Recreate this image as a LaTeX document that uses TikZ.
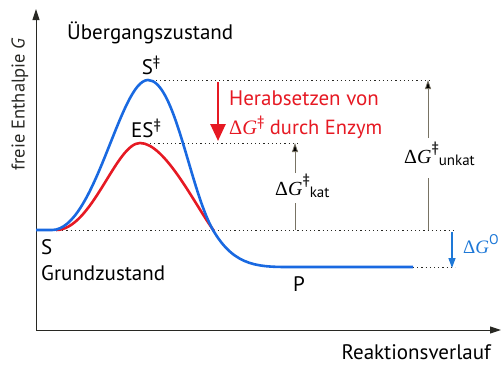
\documentclass[tikz,border=0pt]{standalone}
\usepackage{fontspec}
\setmainfont{PT Sans}
\newfontfamily\serifG{Liberation Serif}
\usetikzlibrary{arrows.meta}
\definecolor{cblue}{RGB}{25,105,225}
\definecolor{cred}{RGB}{230,25,35}
\definecolor{ctxtblue}{RGB}{30,120,215}
\definecolor{caxis}{RGB}{40,40,35}
\definecolor{cgray}{RGB}{120,115,100}
\newcommand{\dG}{{\serifG\char"0394\itshape G}}
\newcommand{\dd}{\raisebox{0.38em}{\fontsize{15}{15}\selectfont ‡}}
\tikzset{
  lbl/.style={inner sep=0pt, font=\fontsize{21}{23}\selectfont, text=black},
  dotline/.style={draw=caxis, line width=0.9pt, dash pattern=on 1.2pt off 3pt},
  axisline/.style={draw=caxis, line width=1pt, -{Triangle[length=11pt,width=7pt]}},
  meas/.style={draw=cgray, line width=0.8pt},
  measarrow/.style={meas, -{Triangle[length=9pt,width=6pt,fill=black]}},
  curveblue/.style={draw=cblue, line width=2.6pt},
  curvered/.style={draw=cred, line width=2.6pt},
}
\begin{document}
\begin{tikzpicture}[x=1pt,y=-1pt]
\useasboundingbox (0,0) rectangle (501,365);
% axes
\coordinate (O) at (36,330);
\coordinate (ytop) at (36,9);
\coordinate (xend) at (501,330);
\draw[axisline] (O) -- (ytop);
\draw[axisline] (O) -- (xend);
\node[rotate=90, inner sep=0pt, text=caxis, font=\fontsize{18.5}{20}\selectfont] (ylab) at (20,104) {freie Enthalpie \textit{G}};
\node[lbl, anchor=base east] (xlab) at (491,359) {Reaktionsverlauf};

% dotted levels
\coordinate (top1) at (156,80);
\coordinate (top2) at (430,80);
\coordinate (mid1) at (150,143);
\coordinate (mid2) at (300,143);
\coordinate (base1) at (58,230);
\coordinate (base2) at (455,230);
\coordinate (prod1) at (413,267);
\coordinate (prod2) at (455,267);
\draw[dotline] (top1) -- (top2);
\draw[dotline] (mid1) -- (mid2);
\draw[dotline] (base1) -- (base2);
\draw[dotline] (prod1) -- (prod2);

% curves
\draw[curvered] (56,230) .. controls (92,230) and (116,143) .. (140,143)
   .. controls (165,143) and (195,205) .. (214,231);
\draw[curveblue] (36,230) -- (52,230) .. controls (95,230) and (120,80) .. (148,80)
   .. controls (175,80) and (190,190) .. (213,230)
   .. controls (235,268) and (260,267) .. (295,267) -- (413,267);

% red arrow
\coordinate (ra1) at (218,82);
\coordinate (ra2) at (218,141);
\draw[draw=cred, line width=2.6pt, -{Triangle[length=17pt,width=15pt]}] (ra1) -- (ra2);
\node[inner sep=0pt, anchor=base west, text=cred, font=\fontsize{21}{23}\selectfont] (herab) at (229,105) {Herabsetzen von};
\node[inner sep=0pt, anchor=base west, text=cred, font=\fontsize{20.5}{23}\selectfont] (durch) at (229,134) {\dG\dd\ durch Enzym};

% dG kat
\coordinate (k1) at (295,230);
\coordinate (k2) at (295,203);
\coordinate (k3) at (295,173);
\coordinate (k4) at (295,143);
\draw[meas] (k1) -- (k2);
\draw[measarrow] (k3) -- (k4);
\node[inner sep=0pt, anchor=base west, font=\fontsize{20}{22}\selectfont] (kat) at (275,195) {\dG\raisebox{0.55em}{\fontsize{15}{15}\selectfont ‡}\raisebox{-0.1em}{\fontsize{15}{15}\selectfont kat}};

% dG unkat
\coordinate (u1) at (428,230);
\coordinate (u2) at (428,178);
\coordinate (u3) at (428,138);
\coordinate (u4) at (428,80);
\draw[meas] (u1) -- (u2);
\draw[measarrow] (u3) -- (u4);
\node[inner sep=0pt, anchor=base west, font=\fontsize{20}{22}\selectfont] (unkat) at (404,163) {\dG\raisebox{0.55em}{\fontsize{15}{15}\selectfont ‡}\raisebox{-0.1em}{\fontsize{15}{15}\selectfont unkat}};

% dG0
\coordinate (g1) at (452,232);
\coordinate (g2) at (452,268);
\draw[draw=ctxtblue, line width=1.3pt, -{Triangle[length=10pt,width=7pt]}] (g1) -- (g2);
\node[inner sep=0pt, anchor=base west, text=ctxtblue, font=\fontsize{19}{21}\selectfont] (g0) at (463,253) {\dG\raisebox{0.45em}{\fontsize{14}{14}\selectfont O}};

% labels
\node[lbl, anchor=west] (ueber) at (67,33) {Übergangszustand};
\node[lbl] (Sdd) at (151,65) {S\dd};
\node[lbl] (ESdd) at (146,128) {ES\dd};
\node[lbl, anchor=west] (S) at (41,247) {S};
\node[lbl, anchor=west] (grund) at (41,273) {Grundzustand};
\node[lbl] (P) at (299,284) {P};
\end{tikzpicture}
\end{document}
